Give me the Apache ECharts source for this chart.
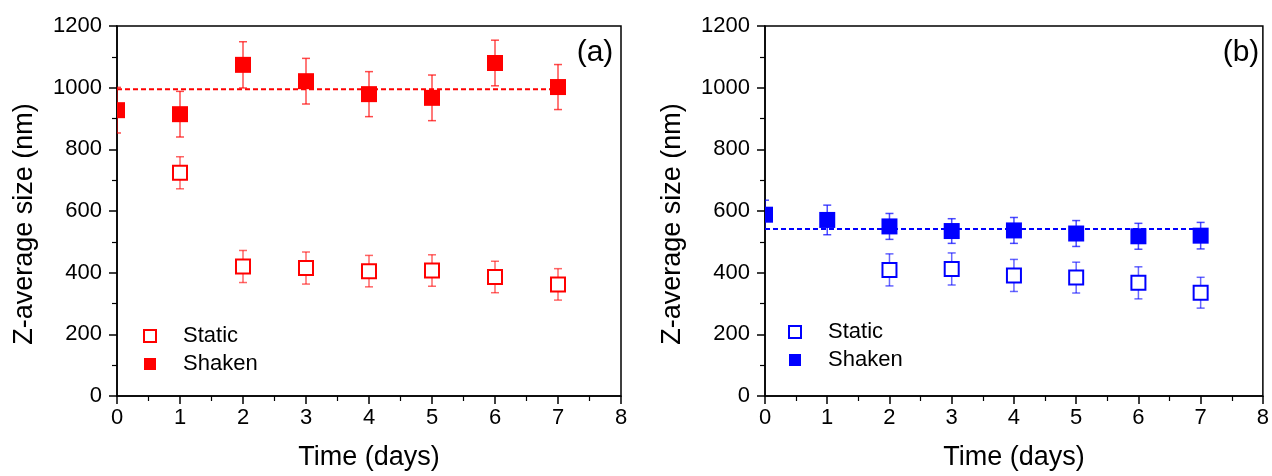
<!DOCTYPE html>
<html>
<head>
<meta charset="utf-8">
<script src="https://cdn.jsdelivr.net/npm/echarts@6/dist/echarts.min.js"></script>
<style>
  html, body { margin: 0; padding: 0; background: #fff; }
  #chart { width: 1272px; height: 476px; }
</style>
</head>
<body>
<div id="chart"></div>
<script>
// Values (nm), days 0..7
const daysShaken = [0, 1, 2, 3, 4, 5, 6, 7];

// panel (a)
const daysStaticA = [1, 2, 3, 4, 5, 6, 7];
const staticA = [724, 420, 415, 405, 407, 386, 362];
const staticErrA = [52, 52, 52, 51, 51, 51, 51];
const shakenA = [927, 914, 1074, 1021, 979, 967, 1080, 1002];
const shakenErrA = [74, 74, 75, 74, 73, 74, 74, 73];
const meanA = 995;

// panel (b)
const daysStaticB = [2, 3, 4, 5, 6, 7];
const staticB = [409, 412, 391, 384, 367, 335];
const staticErrB = [52, 52, 52, 50, 52, 50];
const shakenB = [588, 571, 550, 535, 537, 527, 518, 520];
const shakenErrB = [47, 48, 42, 40, 42, 42, 42, 43];
const meanB = 542;

const meanSpan = [0, 7.1];
const xTicks = [0, 1, 2, 3, 4, 5, 6, 7, 8];
const yTicks = [0, 200, 400, 600, 800, 1000, 1200];

const RED = '#ff0000';
const BLUE = '#0000ff';
const FONT = '"Liberation Sans", Arial, sans-serif';

const chart = echarts.init(document.getElementById('chart'));

function zip(xs, ys, es) {
    return xs.map((x, i) => [x, ys[i], es[i]]);
}

// error bar + square marker, clipped to the plot box
function pointRenderer(filled, color, errColor) {
    return function (params, api) {
        const x = api.value(0), y = api.value(1), e = api.value(2);
        const c = api.coord([x, y]);
        const hi = api.coord([x, y + e]);
        const lo = api.coord([x, y - e]);
        const cap = 4;
        const bar = { stroke: errColor, lineWidth: 1.5 };
        const marker = filled
            ? { type: 'rect', shape: { x: c[0] - 8, y: c[1] - 8, width: 16, height: 16 }, style: { fill: color } }
            : { type: 'rect', shape: { x: c[0] - 7, y: c[1] - 7, width: 14, height: 14 }, style: { fill: '#fff', stroke: color, lineWidth: 2 } };
        return {
            type: 'group',
            children: [
                { type: 'line', shape: { x1: c[0], y1: hi[1], x2: c[0], y2: lo[1] }, style: bar },
                { type: 'line', shape: { x1: c[0] - cap, y1: hi[1], x2: c[0] + cap, y2: hi[1] }, style: bar },
                { type: 'line', shape: { x1: c[0] - cap, y1: lo[1], x2: c[0] + cap, y2: lo[1] }, style: bar },
                marker
            ]
        };
    };
}

function xAxisFor(i) {
    return {
        type: 'value', gridIndex: i,
        min: xTicks[0], max: xTicks[xTicks.length - 1], interval: 1,
        name: 'Time (days)', nameLocation: 'middle', nameGap: 48,
        nameTextStyle: { fontSize: 27, color: '#000', fontFamily: FONT },
        axisLine: { show: true, onZero: false, lineStyle: { color: '#000', width: 1.5 } },
        axisTick: { show: true, length: 8, lineStyle: { color: '#000', width: 1.5 } },
        minorTick: { show: true, splitNumber: 2, length: 5, lineStyle: { color: '#000', width: 1.2 } },
        splitLine: { show: false },
        axisLabel: { fontSize: 22, color: '#000', fontFamily: FONT, margin: 11, formatter: v => String(v) }
    };
}

function yAxisFor(i) {
    return {
        type: 'value', gridIndex: i,
        min: yTicks[0], max: yTicks[yTicks.length - 1], interval: 200,
        name: 'Z-average size (nm)', nameLocation: 'middle', nameGap: 79,
        nameTextStyle: { fontSize: 27, color: '#000', fontFamily: FONT, padding: [0, 26, 0, 0] },
        axisLine: { show: true, onZero: false, lineStyle: { color: '#000', width: 1.5 } },
        axisTick: { show: true, length: 8, lineStyle: { color: '#000', width: 1.5 } },
        minorTick: { show: true, splitNumber: 2, length: 5, lineStyle: { color: '#000', width: 1.2 } },
        splitLine: { show: false },
        axisLabel: { fontSize: 22, color: '#000', fontFamily: FONT, margin: 15, formatter: v => String(v) }
    };
}

function legendFor(tag, color, left, top) {
    return {
        orient: 'vertical', left: left, top: top,
        itemWidth: 12, itemHeight: 12, itemGap: 6,
        padding: 0,
        selectedMode: false,
        formatter: name => name.replace(/ \(.\)$/, ''),
        textStyle: { fontSize: 22, lineHeight: 22, color: '#000', fontFamily: FONT, padding: [0, 0, 0, 22] },
        data: [
            { name: 'Static ' + tag, icon: 'rect', itemStyle: { color: '#fff', borderColor: color, borderWidth: 2 } },
            { name: 'Shaken ' + tag, icon: 'rect', itemStyle: { color: color, borderWidth: 0 } }
        ]
    };
}

function meanLine(i, value, color) {
    return {
        type: 'line', xAxisIndex: i, yAxisIndex: i,
        data: [[meanSpan[0], value], [meanSpan[1], value]],
        symbol: 'none', silent: true, z: 1,
        lineStyle: { color: color, width: 2, type: [5, 3] }
    };
}

const option = {
    animation: false,
    backgroundColor: '#fff',
    grid: [
        { left: 117, top: 26, width: 504, height: 370, show: true, borderColor: '#000', borderWidth: 1.5, containLabel: false },
        { left: 765, top: 26, width: 499, height: 370, show: true, borderColor: '#000', borderWidth: 1.5, containLabel: false }
    ],
    xAxis: [xAxisFor(0), xAxisFor(1)],
    yAxis: [yAxisFor(0), yAxisFor(1)],
    legend: [
        legendFor('(a)', RED, 143, 325),
        legendFor('(b)', BLUE, 788, 321)
    ],
    graphic: [
        { type: 'text', x: 595, y: 53, style: { text: '(a)', fontSize: 30, fontFamily: FONT, fill: '#000', align: 'center', verticalAlign: 'middle' } },
        { type: 'text', x: 1241, y: 53, style: { text: '(b)', fontSize: 30, fontFamily: FONT, fill: '#000', align: 'center', verticalAlign: 'middle' } }
    ],
    series: [
        meanLine(0, meanA, RED),
        {
            name: 'Static (a)', type: 'custom', xAxisIndex: 0, yAxisIndex: 0, clip: true, z: 2,
            renderItem: pointRenderer(false, RED, 'rgba(255,0,0,0.6)'),
            encode: { x: 0, y: 1 },
            data: zip(daysStaticA, staticA, staticErrA)
        },
        {
            name: 'Shaken (a)', type: 'custom', xAxisIndex: 0, yAxisIndex: 0, clip: true, z: 3,
            renderItem: pointRenderer(true, RED, 'rgba(255,0,0,0.7)'),
            encode: { x: 0, y: 1 },
            data: zip(daysShaken, shakenA, shakenErrA)
        },
        meanLine(1, meanB, BLUE),
        {
            name: 'Static (b)', type: 'custom', xAxisIndex: 1, yAxisIndex: 1, clip: true, z: 2,
            renderItem: pointRenderer(false, BLUE, 'rgba(0,0,255,0.6)'),
            encode: { x: 0, y: 1 },
            data: zip(daysStaticB, staticB, staticErrB)
        },
        {
            name: 'Shaken (b)', type: 'custom', xAxisIndex: 1, yAxisIndex: 1, clip: true, z: 3,
            renderItem: pointRenderer(true, BLUE, 'rgba(0,0,255,0.7)'),
            encode: { x: 0, y: 1 },
            data: zip(daysShaken, shakenB, shakenErrB)
        }
    ]
};

chart.setOption(option);
</script>
</body>
</html>
